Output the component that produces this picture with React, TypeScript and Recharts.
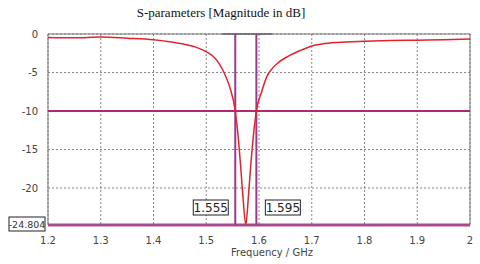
import { LineChart, Line, XAxis, YAxis, CartesianGrid, ReferenceLine, ReferenceArea } from "recharts";

const freqs = [
  1.2, 1.25, 1.3, 1.35, 1.4, 1.43, 1.46, 1.48, 1.5, 1.513, 1.526, 1.535, 1.545, 1.555, 1.56, 1.565,
  1.57, 1.575, 1.58, 1.585, 1.59, 1.595, 1.605, 1.615, 1.625, 1.635, 1.655, 1.68, 1.7, 1.72, 1.75,
  1.8, 1.85, 1.9, 1.95, 2.0,
];
const s11 = [
  -0.45, -0.5, -0.4, -0.55, -0.75, -1.0, -1.35, -1.7, -2.3, -2.9, -4.0, -5.2, -7.0, -10, -13, -17,
  -21.5, -24.8, -21, -16.5, -12.8, -10, -7.5, -5.5, -4.5, -3.8, -2.9, -2.1, -1.55, -1.3, -1.1,
  -0.95, -0.85, -0.8, -0.75, -0.65,
];
const xTicks = [1.2, 1.3, 1.4, 1.5, 1.6, 1.7, 1.8, 1.9, 2];
const yTicks = [0, -5, -10, -15, -20];
const markerLow = 1.555;
const markerHigh = 1.595;
const levelLine = -10;
const minLevel = -24.804;

const data = freqs.map((f, i) => ({ f, db: s11[i] }));

const tickFont = { fontFamily: "DejaVu Sans", fontSize: 10, fill: "#444" };

function BoxLabel({ viewBox, text, side }: any) {
  const w = 35;
  const h = 15;
  const x = side === "left" ? viewBox.x - 7 - w : viewBox.x + 9;
  const y = viewBox.y + viewBox.height - 25;
  return (
    <g>
      <rect x={x} y={y} width={w} height={h} fill="#fff" stroke="#222" strokeWidth={1} />
      <text x={x + w / 2} y={y + 12} textAnchor="middle" fontFamily="DejaVu Sans" fontSize={12} fill="#222">
        {text}
      </text>
    </g>
  );
}

function MinLabel({ viewBox }: any) {
  const w = 36;
  const h = 14;
  const x = viewBox.x - 39;
  const y = viewBox.y - 8;
  return (
    <g>
      <rect x={x} y={y} width={w} height={h} fill="#fff" stroke="#222" strokeWidth={1} />
      <text x={x + w / 2} y={y + 10.5} textAnchor="middle" fontFamily="DejaVu Sans" fontSize={9.5} fill="#333">
        {minLevel.toFixed(3)}
      </text>
    </g>
  );
}

export default function App() {
  return (
    <div style={{ position: "fixed", left: 0, top: 0, width: 480, height: 264, background: "#fff" }}>
      <div
        style={{
          position: "absolute",
          left: 0,
          width: 442,
          top: 5,
          textAlign: "center",
          fontFamily: "'Liberation Serif', serif",
          fontSize: 13,
          color: "#111",
        }}
      >
        S-parameters [Magnitude in dB]
      </div>
      <div
        style={{
          position: "absolute",
          left: 231,
          top: 247,
          fontFamily: "DejaVu Sans",
          fontSize: 10,
          color: "#444",
        }}
      >
        Frequency / GHz
      </div>
      <LineChart width={480} height={264} data={data} margin={{ top: 34, right: 10, bottom: 0, left: 0 }}>
        <CartesianGrid stroke="#888" strokeDasharray="2 2" />
        <XAxis
          dataKey="f"
          type="number"
          domain={[1.2, 2]}
          ticks={xTicks}
          height={39}
          tick={tickFont}
          tickLine={false}
          axisLine={false}
          tickMargin={6}
          interval={0}
        />
        <YAxis
          type="number"
          domain={[minLevel, 0]}
          ticks={yTicks}
          width={48}
          tick={tickFont}
          tickLine={false}
          axisLine={false}
          tickMargin={4}
          allowDataOverflow
        />
        <ReferenceArea x1={1.2} x2={2} y1={minLevel} y2={0} fill="none" stroke="#777" strokeWidth={1} />
        <ReferenceLine
          segment={[
            { x: 1.53, y: 0 },
            { x: 1.625, y: 0 },
          ]}
          stroke="#666"
          strokeWidth={1.5}
        />
        <ReferenceLine y={levelLine} stroke="#b0286e" strokeWidth={2} />
        <ReferenceLine y={minLevel} stroke="#a64c8c" strokeWidth={3} label={<MinLabel />} />
        <ReferenceLine x={markerLow} stroke="#993a90" strokeWidth={2} label={<BoxLabel text="1.555" side="left" />} />
        <ReferenceLine x={markerHigh} stroke="#993a90" strokeWidth={2} label={<BoxLabel text="1.595" side="right" />} />
        <Line
          type="monotone"
          dataKey="db"
          stroke="#e3232b"
          strokeWidth={1.5}
          dot={false}
          isAnimationActive={false}
        />
      </LineChart>
    </div>
  );
}
